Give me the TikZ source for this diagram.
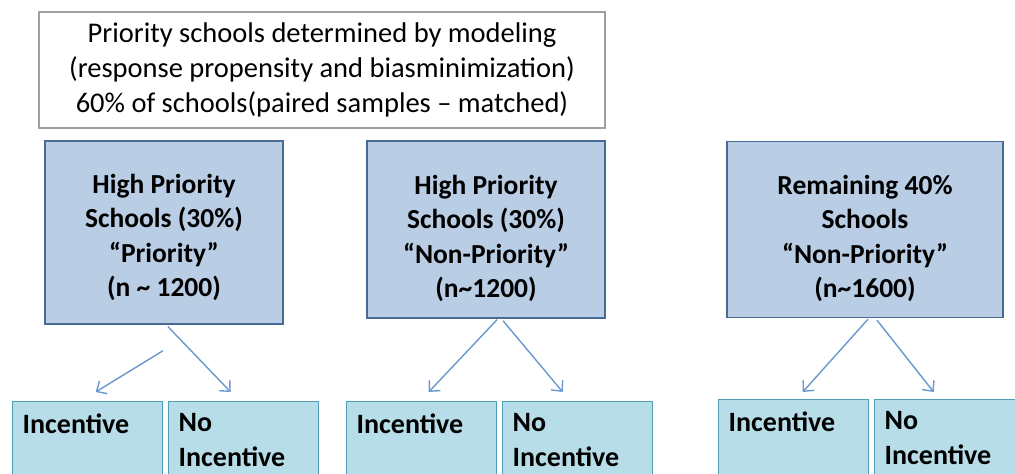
\documentclass[tikz,border=0pt]{standalone}
\usepackage{fontspec}
\setmainfont{Carlito}
\usetikzlibrary{arrows.meta,calc}
\definecolor{bigfill}{HTML}{B9CDE5}
\definecolor{bigdraw}{HTML}{4A6A96}
\definecolor{smfill}{HTML}{B7DEE8}
\definecolor{smdraw}{HTML}{4E9FB3}
\definecolor{arrcol}{HTML}{6A97CE}
\definecolor{topdraw}{HTML}{A0A0A0}
\tikzset{
  topbox/.style={draw=topdraw, line width=1.2pt, fill=white, minimum width=566pt, minimum height=116pt, align=center, inner sep=0pt, font=\fontsize{28.5}{35}\selectfont},
  bigbox/.style={draw=bigdraw, line width=1.4pt, fill=bigfill, align=center, inner sep=0pt, font=\fontsize{27.5}{34.5}\selectfont\bfseries},
  smbox/.style={draw=smdraw, line width=1.4pt, fill=smfill, anchor=north west, inner sep=0pt, font=\fontsize{28}{35}\selectfont\bfseries},
  arr/.style={draw=arrcol, line width=1.4pt, -{Straight Barb[length=8pt,width=15pt]}}
}
\newcommand{\smtext}[1]{\parbox[t][94pt][t]{150pt}{\vspace{12pt}\hspace*{10pt}\parbox[t]{138pt}{\raggedright #1}}}
\newcommand{\tpad}[1]{\rule{0pt}{#1}}
\begin{document}
\begin{tikzpicture}[x=1pt,y=-1pt]
\useasboundingbox (0,0) rectangle (1015,474);
\node[topbox] (top) at (322,70) {Priority schools determined by modeling\\(response propensity and biasminimization)\\60\% of schools(paired samples -- matched)};
\node[bigbox, minimum width=238pt, minimum height=183pt] (b1) at (164,232.5) {\tpad{29pt}High Priority\\Schools (30\%)\\``Priority''\\(n \textasciitilde{} 1200)};
\node[bigbox, minimum width=238pt, minimum height=177pt] (b2) at (486,229.5) {\tpad{37pt}High Priority\\Schools (30\%)\\``Non-Priority''\\(n\textasciitilde{}1200)};
\node[bigbox, minimum width=276pt, minimum height=176pt] (b3) at (865,229.5) {\tpad{37pt}Remaining 40\%\\Schools\\``Non-Priority''\\(n\textasciitilde{}1600)};
\node[smbox] (i1) at (12,401) {\smtext{Incentive}};
\node[smbox] (n1) at (168,401) {\smtext{No\\Incentive}};
\node[smbox] (i2) at (346,401) {\smtext{Incentive}};
\node[smbox] (n2) at (502,401) {\smtext{No\\Incentive}};
\node[smbox] (i3) at (718,399) {\smtext{Incentive}};
\node[smbox] (n3) at (874,399) {\smtext{No\\Incentive}};
\draw[arr] ($(b1.south)+(-1,26)$) -- ($(i1.north)+(8,-9)$);
\draw[arr] ($(b1.south)+(4,2)$) -- ($(n1.north)+(-13,-9)$);
\draw[arr] ($(b2.south)+(11,1)$) -- ($(i2.north)+(7,-9)$);
\draw[arr] ($(b2.south)+(17,2)$) -- ($(n2.north)+(-15,-9)$);
\draw[arr] ($(b3.south)+(3,1)$) -- ($(i3.north)+(9,-7)$);
\draw[arr] ($(b3.south)+(12,2)$) -- ($(n3.north)+(-16,-7)$);
\end{tikzpicture}
\end{document}
